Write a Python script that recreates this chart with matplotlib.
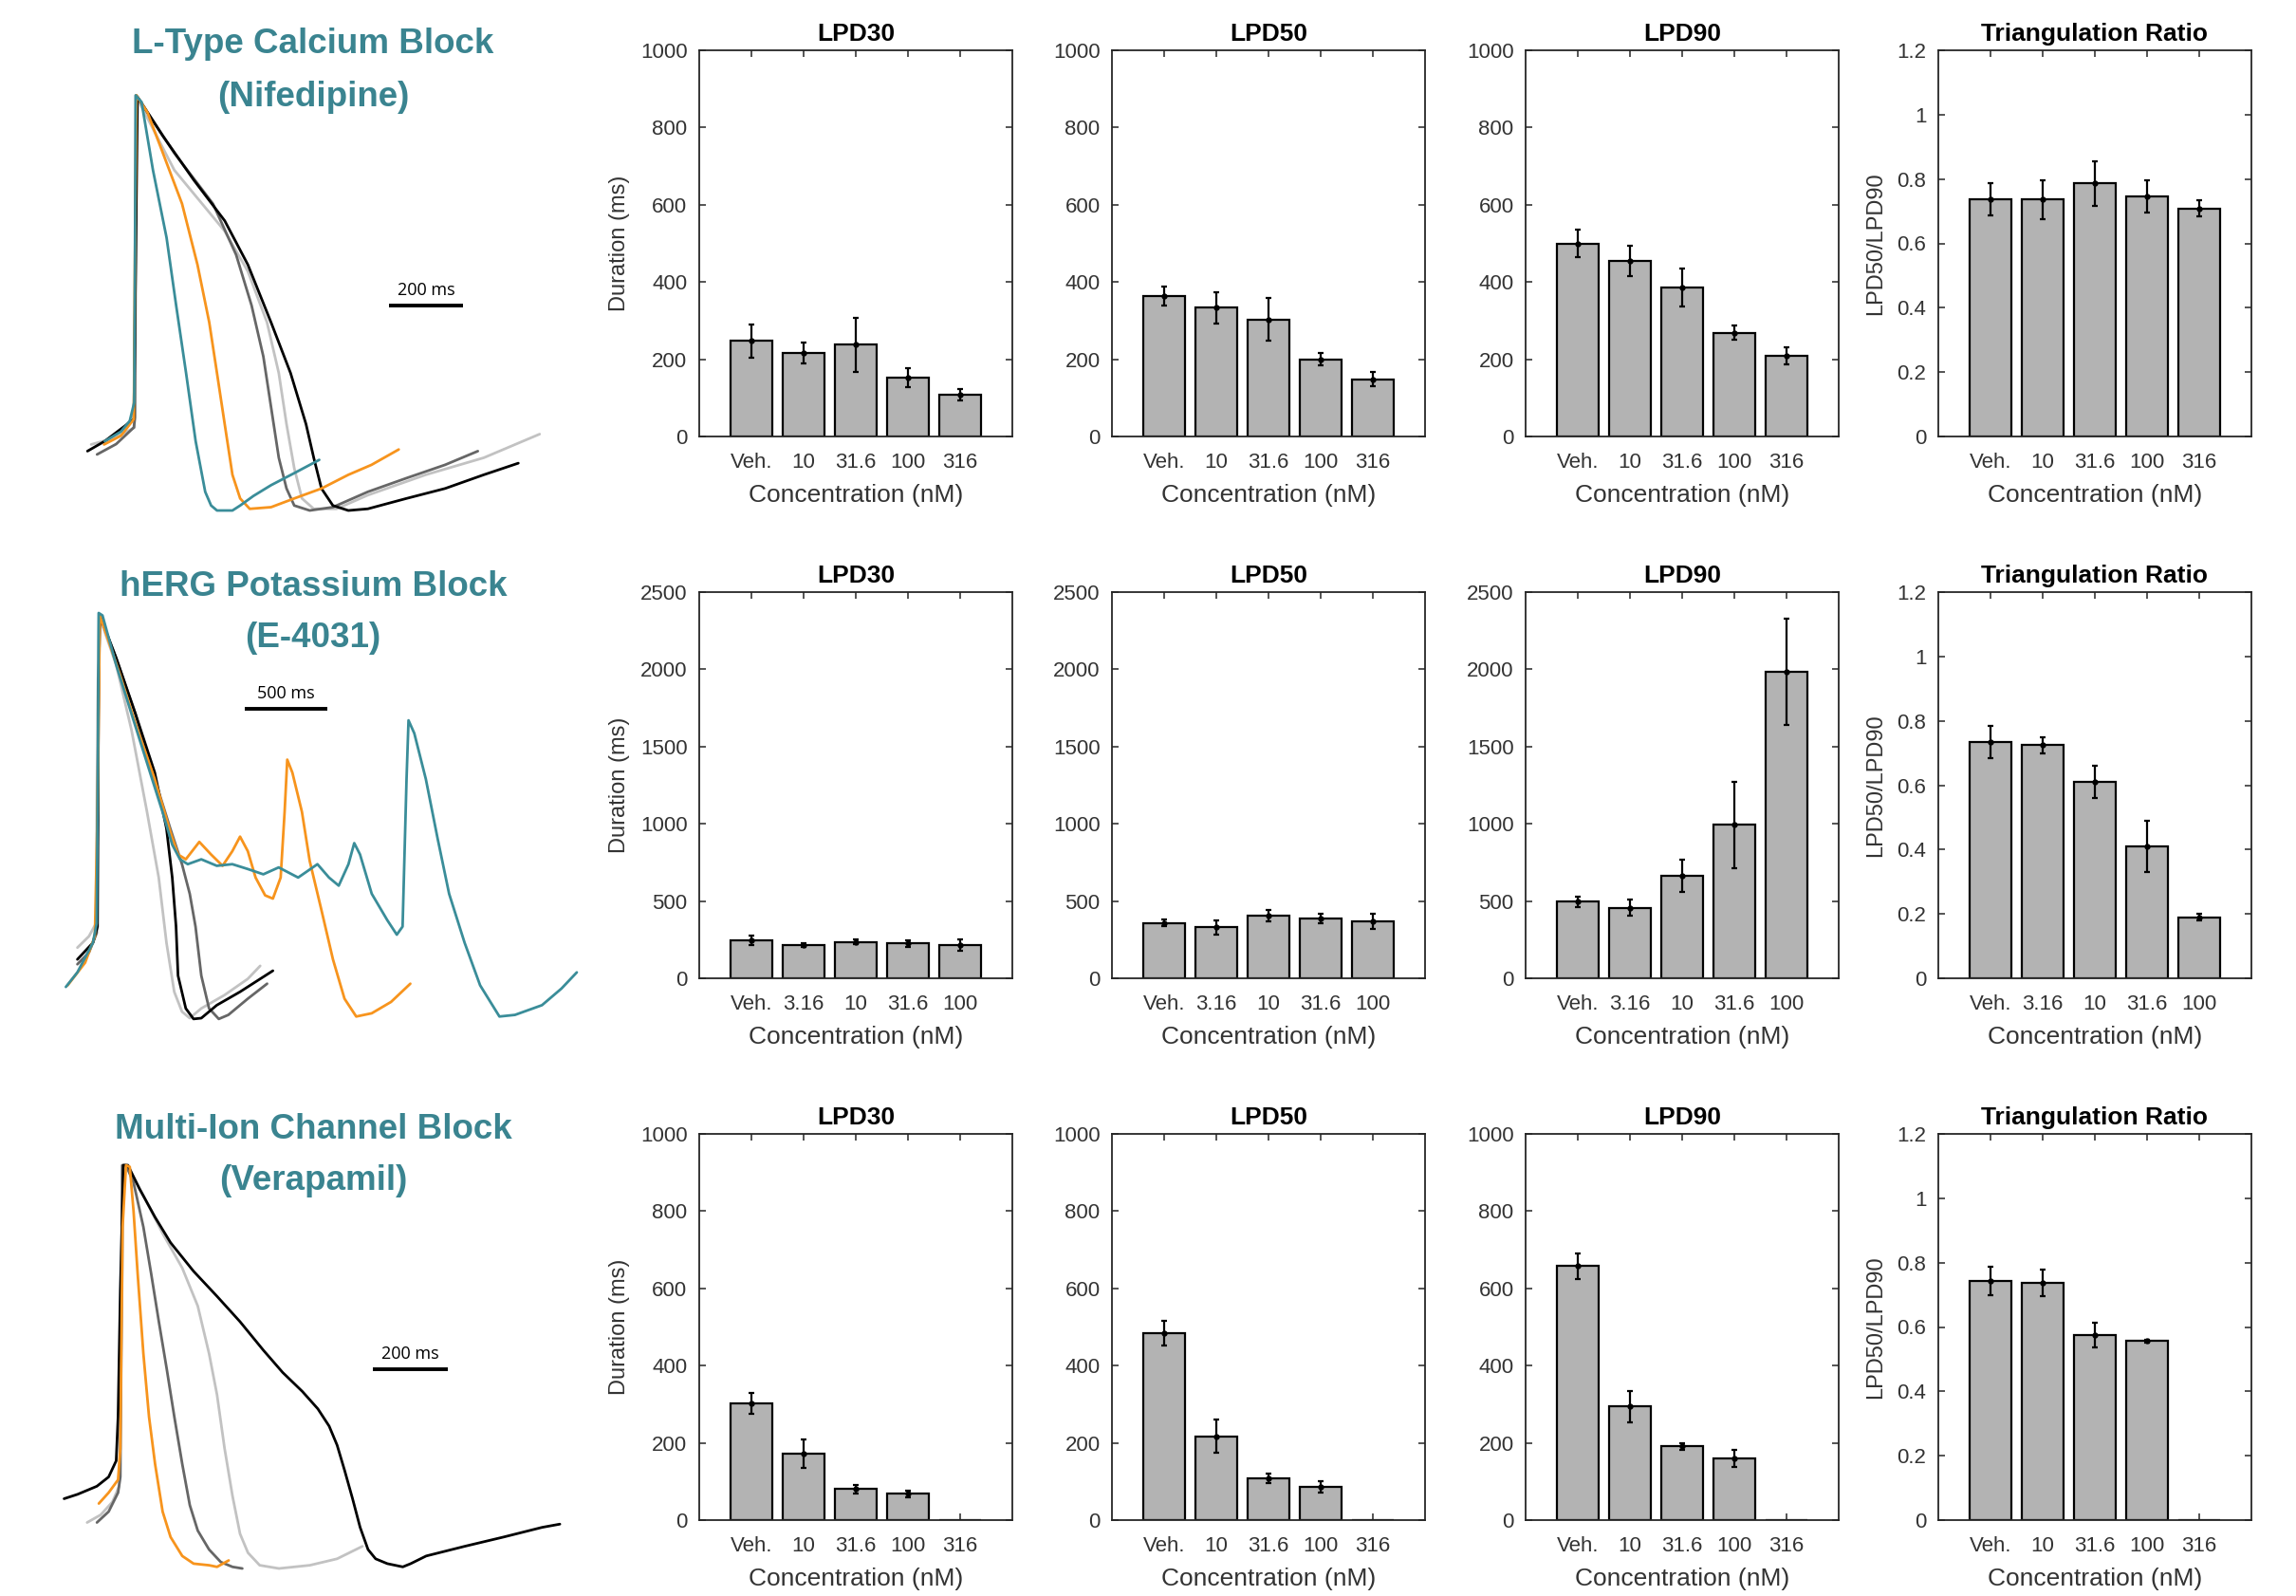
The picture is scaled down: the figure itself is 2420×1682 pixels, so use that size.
import numpy as np
import matplotlib.pyplot as plt
from matplotlib.ticker import FuncFormatter

plt.rcParams['font.family'] = ['Liberation Sans', 'DejaVu Sans']

# ---------------- bar chart data (mean, error) ----------------
nif_conc = ['Veh.', '10', '31.6', '100', '316']
nif_lpd30 = [247, 216, 238, 152, 109]
nif_lpd30_err = [42, 27, 70, 24, 15]
nif_lpd50 = [364, 333, 303, 200, 148]
nif_lpd50_err = [25, 40, 55, 15, 18]
nif_lpd90 = [500, 455, 386, 269, 208]
nif_lpd90_err = [35, 40, 50, 18, 22]
nif_tri = [0.736, 0.736, 0.786, 0.745, 0.709]
nif_tri_err = [0.05, 0.06, 0.07, 0.05, 0.025]

e4031_conc = ['Veh.', '3.16', '10', '31.6', '100']
e4031_lpd30 = [245, 215, 235, 225, 215]
e4031_lpd30_err = [30, 15, 15, 20, 35]
e4031_lpd50 = [358, 330, 405, 387, 368]
e4031_lpd50_err = [20, 45, 35, 30, 50]
e4031_lpd90 = [496, 457, 661, 994, 1982]
e4031_lpd90_err = [33, 50, 105, 280, 343]
e4031_tri = [0.733, 0.725, 0.61, 0.41, 0.19]
e4031_tri_err = [0.05, 0.025, 0.05, 0.08, 0.01]

vera_conc = ['Veh.', '10', '31.6', '100', '316']
vera_lpd30 = [302, 172, 80, 68, np.nan]
vera_lpd30_err = [28, 38, 12, 8, np.nan]
vera_lpd50 = [484, 217, 108, 86, np.nan]
vera_lpd50_err = [32, 43, 13, 14, np.nan]
vera_lpd90 = [658, 294, 191, 160, np.nan]
vera_lpd90_err = [33, 40, 8, 22, np.nan]
vera_tri = [0.743, 0.737, 0.576, 0.556, np.nan]
vera_tri_err = [0.043, 0.04, 0.038, 0.004, np.nan]

# ---------------- action potential traces (time ms, % of peak) ----------------
nif_lgray = [(-121, 15.9), (-53, 17.6), (-3, 20), (0, 100), (105, 82.0), (242, 67.3), (305, 57.6),
             (357, 45.3), (389, 33.1), (410, 20.8), (431, 10.2), (452, 2.9), (484, 0.4), (546, 0.4),
             (631, 3.7), (788, 8.6), (946, 12.7), (1098, 18.4)]
nif_dgray = [(-105, 13.5), (-53, 16), (-5, 20), (-2, 22.4), (0, 60), (2, 100), (105, 86.1), (210, 73.9),
             (273, 61.6), (315, 49.4), (347, 37.1), (368, 24.9), (389, 12.7), (410, 5.3), (431, 1.2),
             (473, 0), (536, 0.8), (631, 4.5), (736, 7.8), (841, 11.0), (930, 14.3)]
nif_black = [(-131, 14.3), (-84, 16.7), (-5, 22), (0, 60), (5, 99.6), (74, 90.2), (158, 79.6), (242, 69.8),
             (305, 59.2), (368, 45.3), (421, 33.1), (463, 20.8), (484, 12.7), (505, 5.3), (536, 1.2),
             (578, 0), (631, 0.4), (736, 2.9), (841, 5.3), (946, 8.6), (1040, 11.4)]
nif_orange = [(-86, 15.9), (-40, 18), (-5, 22), (-2, 60), (2, 100), (32, 95.9), (74, 86.1), (126, 73.9),
              (168, 59.2), (200, 45.3), (221, 33.1), (242, 20.8), (263, 8.6), (284, 2.9), (310, 0.4),
              (368, 0.8), (431, 2.9), (505, 5.3), (578, 8.6), (641, 11.0), (715, 14.7)]
nif_teal = [(-84, 16.7), (-40, 19), (-16, 21.6), (-4, 26), (-2, 60), (0, 100), (16, 98.4), (47, 82),
            (84, 65.7), (110, 49.4), (137, 33.1), (163, 16.7), (189, 4.5), (205, 1.2), (221, 0), (263, 0),
            (284, 1.2), (320, 3.5), (368, 6.1), (431, 9.0), (499, 12.2)]

e4031_lgray = [(-129, 17.4), (-59, 20.2), (-16, 23.4), (-7, 75.1), (2, 99.4), (106, 87.2), (199, 71.1),
               (293, 50.9), (364, 34.7), (411, 18.6), (458, 6.5), (505, 1.6), (552, 0), (622, 2.4),
               (763, 5.7), (904, 9.7), (979, 12.9)]
e4031_dgray = [(-129, 13.3), (-59, 16.2), (-12, 21.0), (-2, 75.1), (7, 99.4), (106, 88.9), (223, 75.1),
               (340, 59.0), (434, 46.8), (505, 38.0), (552, 30.7), (587, 22.6), (622, 10.5), (669, 2.4),
               (728, -0.2), (786, 0.8), (904, 4.8), (1021, 8.5)]
e4031_black = [(-129, 14.5), (-35, 18.6), (-7, 22.6), (0, 83.2), (7, 99.4), (106, 88.9), (223, 75.1),
               (340, 60.6), (411, 46.8), (446, 34.7), (469, 22.6), (481, 10.5), (528, 2.4), (575, -0.2),
               (622, 0), (716, 3.2), (857, 6.5), (1056, 11.7)]
e4031_orange = [(-188, 8.1), (-82, 13.7), (-23, 20.2), (-7, 50.9), (7, 99.4), (35, 96.1), (129, 84.8),
                (223, 72.7), (340, 59.0), (434, 46.0), (481, 40.4), (528, 39.2), (610, 43.5), (681, 40.4),
                (751, 37.6), (810, 41.2), (857, 44.8), (904, 41.2), (951, 34.7), (1009, 30.3), (1056, 29.5),
                (1103, 34.7), (1127, 50.9), (1143, 63.8), (1174, 60.6), (1232, 50.9), (1279, 38.8),
                (1350, 26.7), (1420, 14.5), (1490, 4.8), (1561, 0.4), (1655, 1.2), (1772, 4.0), (1889, 8.5)]
e4031_teal = [(-199, 7.7), (-129, 11.3), (-35, 18.6), (-12, 23.4), (-5, 59.0), (0, 100), (23, 99.4),
              (106, 87.2), (199, 75.1), (293, 63.0), (387, 50.9), (446, 42.8), (493, 39.2), (540, 38.0),
              (622, 39.2), (716, 37.6), (810, 38.0), (904, 36.8), (998, 35.5), (1091, 37.2), (1209, 34.7),
              (1326, 38.0), (1396, 34.7), (1455, 32.7), (1514, 38.0), (1549, 43.2), (1584, 40.4),
              (1655, 30.7), (1749, 24.2), (1807, 20.6), (1842, 22.6), (1866, 59.0), (1878, 73.5),
              (1913, 70.3), (1983, 59.0), (2054, 44.4), (2124, 30.7), (2218, 18.6), (2312, 8.1),
              (2429, 0.4), (2523, 0.8), (2687, 3.2), (2805, 7.3), (2898, 11.3)]

vera_lgray = [(-106, 11.4), (-70, 13.3), (-39, 16.5), (-21, 20.4), (-16, 45.5), (-10, 99.6), (2, 99.6),
              (43, 92.5), (94, 83.1), (146, 74.5), (187, 65.1), (217, 53.3), (238, 43.1), (258, 29.8),
              (279, 18.0), (299, 8.6), (320, 3.9), (351, 0.8), (402, 0), (484, 0.8), (556, 2.4), (623, 5.5)]
vera_dgray = [(-80, 11.4), (-49, 14.1), (-24, 18.8), (-18, 22.7), (-13, 100), (-3, 100), (17, 95.7),
              (43, 84.7), (64, 72.9), (84, 61.2), (105, 49.4), (125, 37.6), (146, 25.9), (166, 15.7),
              (187, 9.4), (217, 4.7), (248, 1.6), (279, 0.4), (305, 0)]
vera_black = [(-167, 17.3), (-131, 18.4), (-80, 20.4), (-49, 22.7), (-29, 26.7), (-24, 37.6), (-18, 69.0),
              (-10, 100), (2, 100), (33, 94.1), (74, 87.1), (115, 80.8), (176, 73.7), (238, 67.5),
              (299, 61.2), (361, 54.1), (412, 48.6), (464, 43.9), (505, 39.6), (535, 35.3), (556, 30.6),
              (576, 24.3), (597, 17.3), (617, 10.2), (638, 4.7), (658, 2.4), (689, 1.2), (730, 0.4),
              (751, 1.2), (792, 3.1), (894, 5.5), (997, 7.8), (1099, 10.2), (1146, 11.0)]
vera_orange = [(-75, 16.1), (-49, 18.8), (-24, 22.0), (-18, 29.8), (-12, 84.7), (-3, 100), (7, 99.6),
               (17, 88.6), (28, 72.9), (43, 53.3), (58, 37.6), (74, 25.9), (94, 14.1), (115, 7.8),
               (146, 3.1), (176, 1.2), (217, 0.8), (238, 0.4), (269, 2.0)]

TEAL = '#3a8d99'
ORANGE = '#f7941d'
DGRAY = '#666666'
LGRAY = '#c2c2c2'
TITLE_COLOR = '#3a8490'
TEXT_COLOR = '#333333'

W, H = 2420, 1682
fig = plt.figure(figsize=(W / 100, H / 100), dpi=100)


def px_axes(x0, y0, x1, y1):
    # axes from pixel box (y measured from the top)
    return fig.add_axes([x0 / W, 1 - y1 / H, (x1 - x0) / W, (y1 - y0) / H])


def trace_panel(rect, origin, ms_px, unit_px, traces, bar):
    ax = px_axes(*rect)
    x0, y0, x1, y1 = rect
    ox, oy = origin
    ax.set_xlim((x0 - ox) / ms_px, (x1 - ox) / ms_px)
    ax.set_ylim((oy - y1) / unit_px, (oy - y0) / unit_px)
    ax.axis('off')
    for pts, color in traces:
        t, v = zip(*pts)
        ax.plot(t, v, color=color, lw=2.0, solid_joinstyle='round', solid_capstyle='round')
    b0, b1, by, label = bar
    ax.plot([b0, b1], [by, by], color='k', lw=2.8, solid_capstyle='butt')
    ax.annotate(label, ((b0 + b1) / 2, by), xytext=(0, 5), textcoords='offset points',
                ha='center', va='bottom', fontsize=13, family=['Open Sans', 'DejaVu Sans'])


def drug_title(y1, y2, name, drug):
    for y, s in ((y1, name), (y2, drug)):
        fig.text(330 / W, 1 - y / H, s, ha='center', va='center', fontsize=26.5,
                 fontweight='bold', color=TITLE_COLOR)


# left column: traces
drug_title(46, 102, 'L-Type Calcium Block', '(Nifedipine)')
trace_panel((30, 90, 640, 580), (143, 538), 0.3878, 4.375,
            [(nif_lgray, LGRAY), (nif_dgray, DGRAY), (nif_black, 'k'), (nif_orange, ORANGE), (nif_teal, TEAL)],
            (689, 889, 49.4, '200 ms'))

drug_title(618, 673, 'hERG Potassium Block', '(E-4031)')
trace_panel((30, 630, 640, 1110), (104, 1073), 0.1739, 4.27,
            [(e4031_lgray, LGRAY), (e4031_dgray, DGRAY), (e4031_black, 'k'), (e4031_orange, ORANGE),
             (e4031_teal, TEAL)],
            (885, 1385, 76.3, '500 ms'))

drug_title(1190, 1245, 'Multi-Ion Channel Block', '(Verapamil)')
trace_panel((30, 1200, 640, 1680), (134, 1653), 0.398, 4.25,
            [(vera_lgray, LGRAY), (vera_dgray, DGRAY), (vera_black, 'k'), (vera_orange, ORANGE)],
            (650, 850, 49.4, '200 ms'))


def bar_panel(ax, labels, vals, errs, ymax, ystep, title, ylabel=None):
    x = np.arange(1, len(labels) + 1)
    ax.bar(x, np.nan_to_num(vals), width=0.8, color='#b3b3b3', edgecolor='k', linewidth=1.6, zorder=2)
    ax.errorbar(x, vals, yerr=errs, fmt='o', ms=3.5, color='k', ecolor='k', elinewidth=1.6,
                capsize=2.5, capthick=1.6, zorder=3)
    ax.set_xlim(0, len(labels) + 1)
    ax.set_ylim(0, ymax)
    ax.set_xticks(x)
    ax.set_xticklabels(labels)
    ax.set_yticks(np.arange(0, ymax + ystep / 2, ystep))
    ax.yaxis.set_major_formatter(FuncFormatter(lambda v, p: '%g' % round(v, 3)))
    ax.tick_params(direction='in', top=True, right=True, length=5, width=1.1, color='#262626',
                   labelsize=16, labelcolor=TEXT_COLOR)
    ax.tick_params(axis='x', pad=12)
    ax.tick_params(axis='y', pad=9)
    for s in ax.spines.values():
        s.set_color('#262626')
        s.set_linewidth(1.3)
    ax.set_title(title, fontsize=19, fontweight='bold', pad=7)
    ax.set_xlabel('Concentration (nM)', fontsize=19, color=TEXT_COLOR, labelpad=9)
    if ylabel:
        ax.set_ylabel(ylabel, fontsize=17, color=TEXT_COLOR, labelpad=8)


col_left = [737, 1172, 1608, 2043]
row_top = [53, 624, 1195]
AW, AH = 330, 407

rows = [
    (nif_conc, [(nif_lpd30, nif_lpd30_err), (nif_lpd50, nif_lpd50_err), (nif_lpd90, nif_lpd90_err)],
     (nif_tri, nif_tri_err), 1000, 200),
    (e4031_conc, [(e4031_lpd30, e4031_lpd30_err), (e4031_lpd50, e4031_lpd50_err), (e4031_lpd90, e4031_lpd90_err)],
     (e4031_tri, e4031_tri_err), 2500, 500),
    (vera_conc, [(vera_lpd30, vera_lpd30_err), (vera_lpd50, vera_lpd50_err), (vera_lpd90, vera_lpd90_err)],
     (vera_tri, vera_tri_err), 1000, 200),
]

for r, (conc, durations, tri, ymax, ystep) in enumerate(rows):
    top = row_top[r]
    for c, ((vals, errs), name) in enumerate(zip(durations, ['LPD30', 'LPD50', 'LPD90'])):
        ax = px_axes(col_left[c], top, col_left[c] + AW, top + AH)
        bar_panel(ax, conc, vals, errs, ymax, ystep, name, 'Duration (ms)' if c == 0 else None)
    ax = px_axes(col_left[3], top, col_left[3] + AW, top + AH)
    bar_panel(ax, conc, tri[0], tri[1], 1.2, 0.2, 'Triangulation Ratio', 'LPD50/LPD90')

fig.savefig('out.png', dpi=100)
